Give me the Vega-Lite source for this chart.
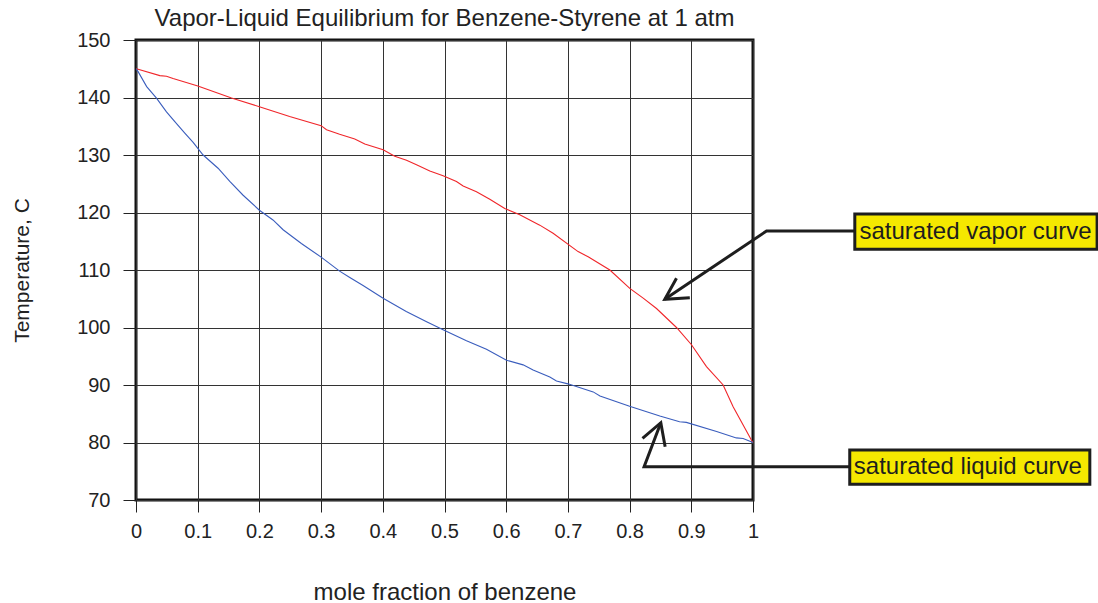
{
  "$schema": "https://vega.github.io/schema/vega-lite/v6.json",
  "autosize": {"type": "none"},
  "width": 617,
  "height": 460,
  "padding": {"left": 136, "top": 40, "right": 345, "bottom": 103},
  "background": "white",
  "config": {
    "font": "Liberation Sans",
    "view": {"stroke": "#111", "strokeWidth": 3},
    "axis": {
      "domain": false,
      "grid": true,
      "gridColor": "#333",
      "gridWidth": 1,
      "gridOpacity": 1,
      "tickColor": "#222",
      "tickWidth": 1,
      "labelFont": "Liberation Sans",
      "labelColor": "#222",
      "titleFont": "Liberation Sans",
      "titleFontWeight": "normal",
      "titleColor": "#222"
    }
  },
  "title": {
    "text": "Vapor-Liquid Equilibrium for Benzene-Styrene at 1 atm",
    "font": "Liberation Sans",
    "fontSize": 24,
    "fontWeight": "normal",
    "color": "#222",
    "anchor": "middle",
    "baseline": "alphabetic",
    "offset": 12,
    "dy": 32
  },
  "datasets": {
    "curves": [
      {"series": "vapor", "x": 0, "y": 145.0},
      {"series": "vapor", "x": 0.0034, "y": 144.9},
      {"series": "vapor", "x": 0.0386, "y": 143.8},
      {"series": "vapor", "x": 0.0494, "y": 143.7},
      {"series": "vapor", "x": 0.0601, "y": 143.3},
      {"series": "vapor", "x": 0.1002, "y": 142.0},
      {"series": "vapor", "x": 0.1548, "y": 139.9},
      {"series": "vapor", "x": 0.2, "y": 138.4},
      {"series": "vapor", "x": 0.249, "y": 136.7},
      {"series": "vapor", "x": 0.3, "y": 135.1},
      {"series": "vapor", "x": 0.3088, "y": 134.4},
      {"series": "vapor", "x": 0.33, "y": 133.6},
      {"series": "vapor", "x": 0.3546, "y": 132.8},
      {"series": "vapor", "x": 0.3708, "y": 131.9},
      {"series": "vapor", "x": 0.4005, "y": 130.9},
      {"series": "vapor", "x": 0.4194, "y": 129.8},
      {"series": "vapor", "x": 0.4384, "y": 129.1},
      {"series": "vapor", "x": 0.4546, "y": 128.3},
      {"series": "vapor", "x": 0.4762, "y": 127.2},
      {"series": "vapor", "x": 0.4977, "y": 126.4},
      {"series": "vapor", "x": 0.5194, "y": 125.4},
      {"series": "vapor", "x": 0.5302, "y": 124.6},
      {"series": "vapor", "x": 0.5518, "y": 123.6},
      {"series": "vapor", "x": 0.5734, "y": 122.3},
      {"series": "vapor", "x": 0.5977, "y": 120.7},
      {"series": "vapor", "x": 0.622, "y": 119.6},
      {"series": "vapor", "x": 0.6544, "y": 117.8},
      {"series": "vapor", "x": 0.676, "y": 116.4},
      {"series": "vapor", "x": 0.7165, "y": 113.2},
      {"series": "vapor", "x": 0.7328, "y": 112.3},
      {"series": "vapor", "x": 0.768, "y": 110.0},
      {"series": "vapor", "x": 0.8003, "y": 106.8},
      {"series": "vapor", "x": 0.822, "y": 105.1},
      {"series": "vapor", "x": 0.8436, "y": 103.3},
      {"series": "vapor", "x": 0.876, "y": 100.0},
      {"series": "vapor", "x": 0.9003, "y": 97.0},
      {"series": "vapor", "x": 0.9246, "y": 93.2},
      {"series": "vapor", "x": 0.9516, "y": 90.0},
      {"series": "vapor", "x": 0.9678, "y": 86.2},
      {"series": "vapor", "x": 0.9976, "y": 80.4},
      {"series": "vapor", "x": 1.0, "y": 80.0},
      {"series": "liquid", "x": 0, "y": 145.0},
      {"series": "liquid", "x": 0.0034, "y": 144.5},
      {"series": "liquid", "x": 0.0173, "y": 141.9},
      {"series": "liquid", "x": 0.0332, "y": 139.9},
      {"series": "liquid", "x": 0.0494, "y": 137.5},
      {"series": "liquid", "x": 0.0629, "y": 135.8},
      {"series": "liquid", "x": 0.0791, "y": 133.8},
      {"series": "liquid", "x": 0.0926, "y": 132.2},
      {"series": "liquid", "x": 0.1088, "y": 130.0},
      {"series": "liquid", "x": 0.133, "y": 127.7},
      {"series": "liquid", "x": 0.152, "y": 125.4},
      {"series": "liquid", "x": 0.1736, "y": 123.0},
      {"series": "liquid", "x": 0.2, "y": 120.4},
      {"series": "liquid", "x": 0.222, "y": 118.7},
      {"series": "liquid", "x": 0.2384, "y": 117.0},
      {"series": "liquid", "x": 0.268, "y": 114.6},
      {"series": "liquid", "x": 0.3006, "y": 112.2},
      {"series": "liquid", "x": 0.33, "y": 109.8},
      {"series": "liquid", "x": 0.3465, "y": 108.7},
      {"series": "liquid", "x": 0.368, "y": 107.3},
      {"series": "liquid", "x": 0.4005, "y": 105.1},
      {"series": "liquid", "x": 0.438, "y": 102.8},
      {"series": "liquid", "x": 0.471, "y": 101.0},
      {"series": "liquid", "x": 0.4977, "y": 99.6},
      {"series": "liquid", "x": 0.5356, "y": 97.7},
      {"series": "liquid", "x": 0.568, "y": 96.2},
      {"series": "liquid", "x": 0.6005, "y": 94.3},
      {"series": "liquid", "x": 0.6274, "y": 93.5},
      {"series": "liquid", "x": 0.6436, "y": 92.6},
      {"series": "liquid", "x": 0.6707, "y": 91.4},
      {"series": "liquid", "x": 0.6815, "y": 90.7},
      {"series": "liquid", "x": 0.7, "y": 90.2},
      {"series": "liquid", "x": 0.741, "y": 88.8},
      {"series": "liquid", "x": 0.752, "y": 88.1},
      {"series": "liquid", "x": 0.8, "y": 86.3},
      {"series": "liquid", "x": 0.849, "y": 84.6},
      {"series": "liquid", "x": 0.881, "y": 83.6},
      {"series": "liquid", "x": 0.892, "y": 83.5},
      {"series": "liquid", "x": 0.941, "y": 81.9},
      {"series": "liquid", "x": 0.973, "y": 80.8},
      {"series": "liquid", "x": 0.984, "y": 80.7},
      {"series": "liquid", "x": 1.0, "y": 80.0}
    ],
    "arrows": [
      {"seg": "v1", "o": 1, "x": 1.165, "y": 116.78},
      {"seg": "v1", "o": 2, "x": 1.0219, "y": 116.78},
      {"seg": "v1", "o": 3, "x": 0.857, "y": 104.9},
      {"seg": "v2", "o": 1, "x": 0.876, "y": 108.56},
      {"seg": "v2", "o": 2, "x": 0.857, "y": 104.9},
      {"seg": "v2", "o": 3, "x": 0.8976, "y": 105.18},
      {"seg": "l1", "o": 1, "x": 1.1568, "y": 75.79},
      {"seg": "l1", "o": 2, "x": 0.8235, "y": 75.79},
      {"seg": "l1", "o": 3, "x": 0.8506, "y": 83.44},
      {"seg": "l2", "o": 1, "x": 0.8209, "y": 80.73},
      {"seg": "l2", "o": 2, "x": 0.8506, "y": 83.44},
      {"seg": "l2", "o": 3, "x": 0.8576, "y": 79.27}
    ],
    "boxes": [
      {"label": "saturated vapor curve", "x": 1.165, "x2": 1.5577, "y": 113.6, "y2": 119.74, "tx": 1.1725, "ty": 116.65},
      {"label": "saturated liquid curve", "x": 1.1568, "x2": 1.5459, "y": 72.73, "y2": 78.7, "tx": 1.1634, "ty": 75.75}
    ]
  },
  "encoding": {
    "x": {
      "field": "x",
      "type": "quantitative",
      "scale": {"domain": [0, 1], "nice": false, "zero": false},
      "axis": {
        "title": "mole fraction of benzene",
        "titleFontSize": 24,
        "labelFontSize": 20,
        "values": [0, 0.1, 0.2, 0.3, 0.4, 0.5, 0.6, 0.7, 0.8, 0.9, 1],
        "format": "~g",
        "tickSize": 12,
        "labelPadding": 9,
        "labelFlush": false,
        "labelOverlap": false,
        "titleY": 99,
        "titleBaseline": "alphabetic"
      }
    },
    "y": {
      "field": "y",
      "type": "quantitative",
      "scale": {"domain": [70, 150], "nice": false, "zero": false},
      "axis": {
        "title": "Temperature, C",
        "titleFontSize": 21,
        "labelFontSize": 20,
        "values": [70, 80, 90, 100, 110, 120, 130, 140, 150],
        "tickSize": 13,
        "labelPadding": 13,
        "labelOverlap": false,
        "titleX": -114,
        "titleY": 230,
        "titleAngle": 270,
        "titleAlign": "center",
        "titleBaseline": "middle"
      }
    }
  },
  "layer": [
    {
      "data": {"name": "curves"},
      "mark": {"type": "line", "strokeWidth": 1.1},
      "encoding": {
        "color": {
          "field": "series",
          "type": "nominal",
          "scale": {"domain": ["vapor", "liquid"], "range": ["#f0262a", "#3a5dbd"]},
          "legend": null
        },
        "order": {"field": "x", "type": "quantitative"}
      }
    },
    {
      "data": {"name": "arrows"},
      "mark": {"type": "line", "color": "#1e1e1e", "strokeWidth": 3, "strokeJoin": "miter", "strokeCap": "butt"},
      "encoding": {
        "detail": {"field": "seg", "type": "nominal"},
        "order": {"field": "o", "type": "quantitative"}
      }
    },
    {
      "data": {"name": "boxes"},
      "mark": {"type": "rect", "fill": "#f5e800", "stroke": "#1e1e1e", "strokeWidth": 3},
      "encoding": {
        "x2": {"field": "x2"},
        "y2": {"field": "y2"}
      }
    },
    {
      "data": {"name": "boxes"},
      "mark": {"type": "text", "align": "left", "baseline": "middle", "fontSize": 24, "font": "Liberation Sans", "color": "#1e1e1e"},
      "encoding": {
        "x": {"field": "tx", "type": "quantitative"},
        "y": {"field": "ty", "type": "quantitative"},
        "text": {"field": "label"}
      }
    }
  ]
}
